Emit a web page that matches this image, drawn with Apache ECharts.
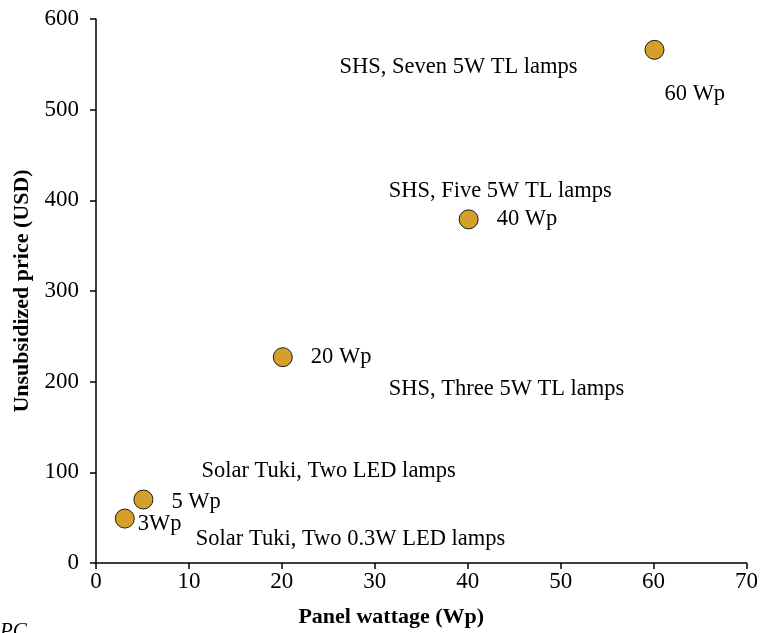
<!DOCTYPE html>
<html>
<head>
<meta charset="utf-8">
<script src="https://cdn.jsdelivr.net/npm/echarts@6/dist/echarts.min.js"></script>
<style>
html,body{margin:0;padding:0;background:#fff;}
#main{width:761px;height:633px;}
</style>
</head>
<body>
<div id="main"></div>
<script>
// ---- data ----
const wattage = [3.1, 5.1, 20.1, 40.1, 60.1];
const price = [49, 70, 227, 379, 566];
const wattLabels = ['3Wp', '5 Wp', '20 Wp', '40 Wp', '60 Wp'];
const descriptions = [
  'Solar Tuki, Two 0.3W LED lamps',
  'Solar Tuki, Two LED lamps',
  'SHS, Three 5W TL lamps',
  'SHS, Five 5W TL lamps',
  'SHS, Seven 5W TL lamps'
];
const xTicks = [0, 10, 20, 30, 40, 50, 60, 70];
const yTicks = [0, 100, 200, 300, 400, 500, 600];

// ---- layout (label offsets in px from marker centre) ----
const wattOffsets = [[13, 6], [28, 3], [28, 0], [28, 0], [10, 44]];
const descOffsets = [[71, 21], [58, -28], [106, 32], [-80, -28], [-315, 17]];

const FONT = '"Liberation Serif", "Times New Roman", serif';
const labelStyle = {fontFamily: FONT, fontSize: 22.5, color: '#000', opacity: 1};

function mkData(offsets, texts) {
  return wattage.map((w, i) => ({
    value: [w, price[i]],
    label: {
      show: true,
      position: 'inside',
      align: 'left',
      verticalAlign: 'middle',
      offset: offsets[i],
      formatter: texts[i],
      ...labelStyle
    }
  }));
}

const chart = echarts.init(document.getElementById('main'), null, {renderer: 'canvas'});
chart.setOption({
  animation: false,
  backgroundColor: '#fff',
  grid: {left: 96, right: 10, top: 19, bottom: 69, containLabel: false},
  xAxis: {
    type: 'value', min: xTicks[0], max: xTicks[xTicks.length - 1], interval: 10,
    name: 'Panel wattage (Wp)', nameLocation: 'middle', nameGap: 43,
    nameTextStyle: {fontFamily: FONT, fontSize: 22, fontWeight: 'bold', color: '#000', padding: [0, 60, 0, 0]},
    axisLine: {show: true, lineStyle: {color: '#000', width: 1.5}},
    axisTick: {show: true, length: 6, lineStyle: {color: '#000', width: 1.5}},
    axisLabel: {fontFamily: FONT, fontSize: 23, color: '#000', margin: 7},
    splitLine: {show: false}
  },
  yAxis: {
    type: 'value', min: yTicks[0], max: yTicks[yTicks.length - 1], interval: 100,
    name: 'Unsubsidized price (USD)', nameLocation: 'middle', nameGap: 63, nameRotate: 90,
    nameTextStyle: {fontFamily: FONT, fontSize: 22, fontWeight: 'bold', color: '#000'},
    axisLine: {show: true, lineStyle: {color: '#000', width: 1.5}},
    axisTick: {show: true, length: 6, lineStyle: {color: '#000', width: 1.5}},
    axisLabel: {fontFamily: FONT, fontSize: 23, color: '#000', margin: 17},
    splitLine: {show: false}
  },
  series: [
    {
      type: 'scatter',
      symbol: 'circle',
      symbolSize: 19,
      itemStyle: {color: '#D4A02A', borderColor: '#1a1a1a', borderWidth: 1, opacity: 1},
      data: mkData(wattOffsets, wattLabels),
      z: 3
    },
    {
      type: 'scatter',
      symbolSize: 0,
      silent: true,
      itemStyle: {color: 'rgba(0,0,0,0)', opacity: 1},
      data: mkData(descOffsets, descriptions),
      z: 2
    }
  ],
  graphic: [{
    type: 'text', left: 0, top: 621,
    style: {text: 'PC', fontFamily: FONT, fontStyle: 'italic', fontSize: 21, fill: '#000'}
  }]
});
</script>
</body>
</html>
